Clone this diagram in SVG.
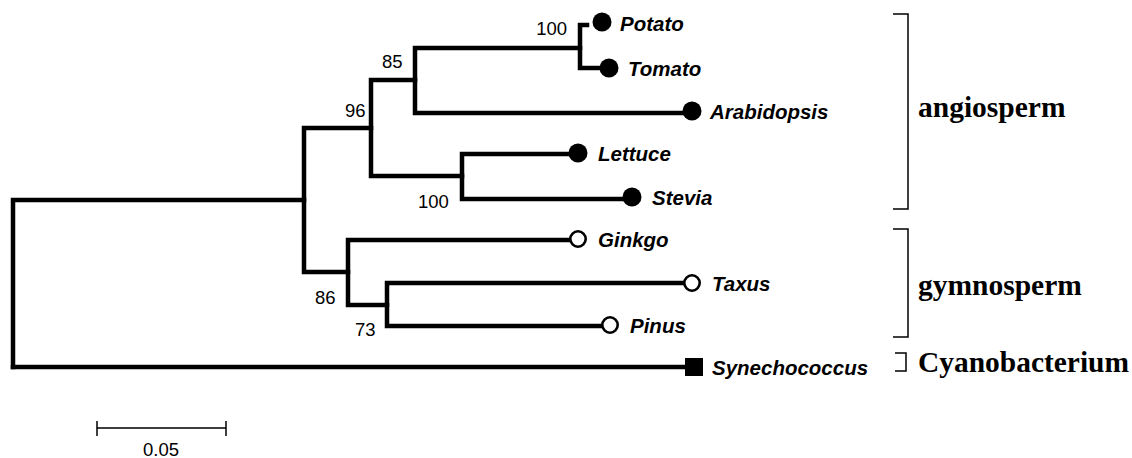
<svg xmlns="http://www.w3.org/2000/svg" width="1132" height="458" viewBox="0 0 1132 458">
  <style>
    .br { fill: none; stroke: #000; stroke-width: 4.5; stroke-linecap: square; stroke-linejoin: miter; }
    .thin { fill: none; stroke: #000; stroke-width: 1.5; }
    .sp { font-family: "Liberation Sans", Arial, sans-serif; font-size: 20.5px; font-weight: bold; font-style: italic; fill: #000; }
    .bs { font-family: "Liberation Sans", Arial, sans-serif; font-size: 18.5px; fill: #000; }
    .grp { font-family: "Liberation Serif", "Times New Roman", serif; font-size: 29.5px; font-weight: bold; fill: #000; }
    .fill { fill: #000; }
    .open { fill: #fff; stroke: #000; stroke-width: 2.6; }
  </style>
  <rect width="1132" height="458" fill="#fff"/>

  <!-- tree branches -->
  <g id="branches">
    <path class="br" d="M13,200 V367 M13,200 H304"/>
    <path class="br" d="M304,128 V272 M304,128 H371 M304,272 H348"/>
    <path class="br" d="M371,80 V176 M371,80 H415 M371,176 H462"/>
    <path class="br" d="M415,48 V113 M415,48 H580 M415,113 H682"/>
    <path class="br" d="M580,25 V68 M580,25 H587 M580,68 H600"/>
    <path class="br" d="M462,154 V199 M462,154 H568 M462,199 H623"/>
    <path class="br" d="M348,240 V305 M348,240 H568 M348,305 H387"/>
    <path class="br" d="M387,283 V326 M387,283 H683 M387,326 H601"/>
    <path class="br" d="M13,367 H685"/>
  </g>

  <!-- bootstrap values -->
  <g id="bootstrap">
    <text class="bs" x="567" y="35" text-anchor="end">100</text>
    <text class="bs" x="382" y="68">85</text>
    <text class="bs" x="345" y="117">96</text>
    <text class="bs" x="418" y="208">100</text>
    <text class="bs" x="315" y="304">86</text>
    <text class="bs" x="355" y="336">73</text>
  </g>

  <!-- angiosperms -->
  <g id="potato"><circle class="fill" cx="602" cy="22" r="9.5"/><text class="sp" x="620" y="31">Potato</text></g>
  <g id="tomato"><circle class="fill" cx="609" cy="68" r="9.5"/><text class="sp" x="628" y="76">Tomato</text></g>
  <g id="arabidopsis"><circle class="fill" cx="692" cy="111" r="9.5"/><text class="sp" x="710" y="119">Arabidopsis</text></g>
  <g id="lettuce"><circle class="fill" cx="578" cy="153" r="9.5"/><text class="sp" x="598" y="161">Lettuce</text></g>
  <g id="stevia"><circle class="fill" cx="632" cy="197" r="9.5"/><text class="sp" x="652" y="205">Stevia</text></g>

  <!-- gymnosperms -->
  <g id="ginkgo"><circle class="open" cx="578" cy="239" r="7.7"/><text class="sp" x="598" y="247">Ginkgo</text></g>
  <g id="taxus"><circle class="open" cx="692" cy="283" r="7.7"/><text class="sp" x="712" y="291">Taxus</text></g>
  <g id="pinus"><circle class="open" cx="610" cy="325" r="7.7"/><text class="sp" x="630" y="333">Pinus</text></g>

  <!-- outgroup -->
  <g id="synechococcus"><rect class="fill" x="685" y="358" width="18" height="18"/><text class="sp" x="712" y="375">Synechococcus</text></g>

  <!-- group brackets -->
  <g id="angiosperm">
    <path class="thin" d="M893,14 H908 V209 H893"/>
    <text class="grp" x="918" y="117">angiosperm</text>
  </g>
  <g id="gymnosperm">
    <path class="thin" d="M893,229 H908 V337 H893"/>
    <text class="grp" x="918" y="295">gymnosperm</text>
  </g>
  <g id="cyanobacterium">
    <path class="thin" d="M895,353 H906 V371 H895"/>
    <text class="grp" x="918" y="372" textLength="211" lengthAdjust="spacingAndGlyphs">Cyanobacterium</text>
  </g>

  <!-- scale bar -->
  <g id="scale">
    <path class="thin" d="M97,428 H226 M97,421 V436 M226,421 V436"/>
    <text class="bs" x="161" y="456" text-anchor="middle">0.05</text>
  </g>
</svg>
